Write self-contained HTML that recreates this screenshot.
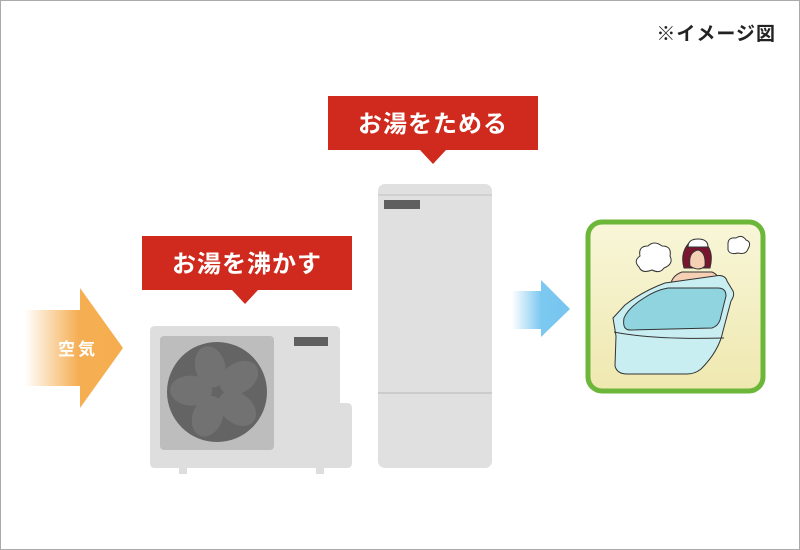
<!DOCTYPE html>
<html><head><meta charset="utf-8"><style>
html,body{margin:0;padding:0;background:#fff}
svg{display:block}
text{font-family:"Liberation Sans","Noto Sans CJK JP",sans-serif}
</style></head><body>
<svg width="800" height="550" viewBox="0 0 800 550" xmlns="http://www.w3.org/2000/svg">
<defs>
<linearGradient id="og" x1="25" y1="0" x2="123" y2="0" gradientUnits="userSpaceOnUse">
<stop offset="0" stop-color="#f6ad4e" stop-opacity="0"/><stop offset="0.55" stop-color="#f5ae52"/><stop offset="1" stop-color="#f5ad4f"/></linearGradient>
<linearGradient id="bg" x1="512" y1="0" x2="570" y2="0" gradientUnits="userSpaceOnUse">
<stop offset="0" stop-color="#7cc8f0" stop-opacity="0"/><stop offset="0.5" stop-color="#7cc8f0"/><stop offset="1" stop-color="#76c5ef"/></linearGradient>
<linearGradient id="bgb" x1="0" y1="225" x2="0" y2="390" gradientUnits="userSpaceOnUse">
<stop offset="0" stop-color="#f8f6d8"/><stop offset="1" stop-color="#efe8b0"/></linearGradient>
</defs>
<rect x="0.5" y="0.5" width="799" height="549" fill="#fff" stroke="#aaa"/>
<text x="776" y="40" text-anchor="end" font-size="19" font-weight="bold" fill="#222" letter-spacing="1">※イメージ図</text>

<path d="M25 310 H80 V288 L123 348 L80 408 V386 H25 Z" fill="url(#og)"/>
<text x="78" y="355" text-anchor="middle" font-size="17" font-weight="bold" fill="#fff" letter-spacing="3">空気</text>

<path d="M142 236 H352 V290 H258 L245 304 L232 290 H142 Z" fill="#cf2a1d"/>
<text x="247" y="272" text-anchor="middle" font-size="24" font-weight="bold" fill="#fff" letter-spacing="1">お湯を沸かす</text>
<path d="M328 96 H538 V150 H446 L433 164 L420 150 H328 Z" fill="#cf2a1d"/>
<text x="433" y="132" text-anchor="middle" font-size="24" font-weight="bold" fill="#fff" letter-spacing="1">お湯をためる</text>

<rect x="179" y="462" width="8" height="12" fill="#ddd"/>
<rect x="316" y="462" width="8" height="12" fill="#ddd"/>
<path d="M155 326 H335 Q340 326 340 331 V403 H347 Q352 403 352 408 V463 Q352 468 347 468 H155 Q150 468 150 463 V331 Q150 326 155 326 Z" fill="#dedede"/>
<rect x="160" y="336" width="114" height="114" rx="4" fill="#bdbdbd"/>
<circle cx="217" cy="392" r="50" fill="#646464"/>
<g fill="#727272">
<ellipse cx="217" cy="366" rx="15" ry="21" transform="rotate(-15 217 392)"/>
<ellipse cx="217" cy="366" rx="15" ry="21" transform="rotate(57 217 392)"/>
<ellipse cx="217" cy="366" rx="15" ry="21" transform="rotate(129 217 392)"/>
<ellipse cx="217" cy="366" rx="15" ry="21" transform="rotate(201 217 392)"/>
<ellipse cx="217" cy="366" rx="15" ry="21" transform="rotate(273 217 392)"/>
</g>
<rect x="294" y="337" width="34" height="9" fill="#5f5f5f"/>

<rect x="378" y="184" width="114" height="284" rx="7" fill="#e0e0e0"/>
<line x1="378" y1="195" x2="492" y2="195" stroke="#ccc" stroke-width="1.5"/>
<line x1="378" y1="393" x2="492" y2="393" stroke="#c6c6c6" stroke-width="1.5"/>
<rect x="384" y="200" width="36" height="9" fill="#5f5f5f"/>

<path d="M512 291 H541 V280 L570 309 L541 337 V329 H512 Z" fill="url(#bg)"/>

<rect x="588" y="222" width="175" height="169" rx="14" fill="url(#bgb)" stroke="#6cb63a" stroke-width="5"/>
<g stroke="#333" stroke-width="1" fill="#fff">
<path d="M640 256 q-2-10 8-10 q6-6 14 0 q10 0 8 10 q4 8-6 12 q-4 6-12 2 q-10 4-13-3 q-6-6 1-11 Z"/>
<path d="M728 244 q0-7 8-6 q6-4 10 2 q6 2 2 9 q-2 6-10 4 q-8 2-10-3 Z"/>
<path d="M684 268 q-4-14 4-24 q10-6 18 0 q8 8 4 24 Z" fill="#7a1530"/>
<path d="M688 247 q0-8 10-8 q10 0 10 8 Z"/>
<path d="M690 266 q-2-14 8-16 q8 2 7 16 q-6 6-15 0 Z" fill="#f5d0b5"/>
<path d="M670 290 q0-14 12-18 h30 q10 4 8 18 Z" fill="#f5d0b5"/>
<path d="M613 318 L625 305 q18-14 40-22 L715 276 q10-2 12 5 l6 10 q2 4-2 10 l-8 30 q-4 20-22 38 q-6 5-14 5 l-60 0 q-10 0-12-8 L616 336 Z" fill="#c9eef2"/>
<path d="M624 318 q4-10 20-20 q12-8 24-10 h50 q8 0 8 8 l-6 24 q-2 6-8 8 l-82 2 q-8 0-6-12 Z" fill="#8fd4de"/>
<path d="M614 332 q40 8 110 6" fill="none"/>
</g>
</svg>
</body></html>
